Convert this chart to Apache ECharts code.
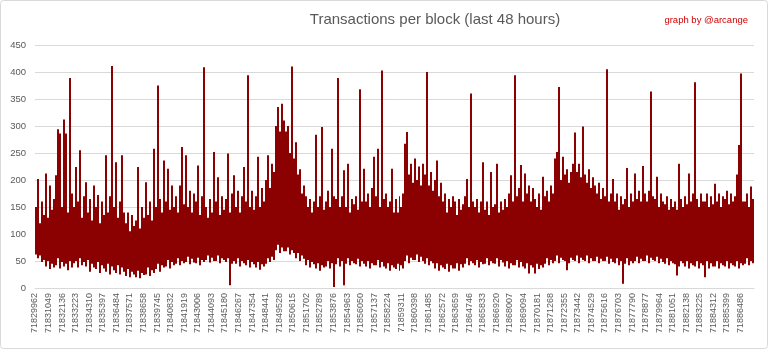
<!DOCTYPE html>
<html><head><meta charset="utf-8">
<script src="https://cdn.jsdelivr.net/npm/echarts@6/dist/echarts.min.js"></script>
<style>html,body{margin:0;padding:0;background:#fff}#c{width:768px;height:349px}</style>
</head><body><div id="c"></div><script>
// ---- data ----
const firstBlock = 71829962;
const totalBlocks = 57600;      // 48 hours of blocks
const labelStep = 1087;         // tick label spacing in blocks
const blocksPerColumn = 160;    // each reading pair summarises 160 blocks
const yTicks = [0, 50, 100, 150, 200, 250, 300, 350, 400, 450];

// maximum transactions per block in each 160-block slice
const highs = [
 150,202,120,160,135, 212,130,190,145,165, 209,294,286,150,312, 286,140,389,175,150,
 224,160,255,130,170, 196,140,165,125,190, 150,172,120,160,135, 246,140,170,411,150,
 233,130,160,246,140, 120,140,105,135,115, 125,224,110,150,130, 196,135,160,125,258,
 150,375,165,140,236, 160,221,145,190,150, 170,140,190,261,155, 246,150,180,140,175,
 160,227,135,170,409, 150,130,165,140,252, 160,205,135,170,145, 165,249,140,175,209,
 150,180,140,170,224, 160,394,150,180,145, 170,243,150,185,160, 200,246,185,230,215,
 300,335,290,341,310, 290,300,250,410,240, 270,210,220,175,190, 170,150,165,140,160,
 284,150,170,298,145, 160,180,150,258,170, 165,389,150,170,218, 150,230,140,165,155,
 170,145,368,160,221, 160,175,150,185,243, 170,258,150,403,165, 175,150,160,221,140,
 165,140,170,150,175, 267,289,210,230,195, 240,200,225,190,230, 210,400,190,215,180,
 200,236,170,195,160, 175,140,165,150,170, 160,135,165,145,155, 170,202,150,360,160,
 150,165,140,160,233, 145,160,135,215,150, 155,230,140,160,145, 165,150,175,209,160,
 394,170,185,228,160, 212,175,190,160,185, 165,150,175,145,206, 170,180,160,190,175,
 240,252,372,200,243, 210,220,195,215,230, 288,215,230,205,299, 210,195,220,185,205,
 190,175,195,165,185, 170,405,160,175,202, 160,175,145,170,155, 165,222,150,175,160,
 212,165,180,160,226, 175,160,180,364,170, 165,206,150,175,160, 155,170,145,165,150,
 160,145,230,165,150, 170,155,212,160,175, 381,165,150,175,160, 160,175,150,170,155,
 193,160,175,150,170, 165,180,155,175,160, 170,210,265,397,160, 160,175,150,188,165
];
// minimum transactions per block in each 160-block slice
const lows = [
 62,55,60,48,52, 40,50,35,45,38, 42,55,36,48,40, 45,33,50,38,46,
 50,38,55,42,48, 40,52,30,45,38, 35,48,28,42,36, 30,45,25,40,33,
 28,42,25,38,30, 22,35,20,30,25, 20,32,18,28,24, 25,38,22,33,28,
 35,45,30,42,38, 40,52,36,48,42, 45,55,42,50,46, 48,58,44,54,47,
 46,56,42,52,48, 52,60,47,56,50, 50,60,46,55,52, 48,55,5,45,50,
 45,55,40,50,46, 42,52,38,48,44, 38,48,34,44,40, 45,55,48,58,52,
 70,80,65,75,68, 68,75,62,70,65, 55,65,50,60,54, 42,52,38,48,44,
 36,46,32,42,38, 40,50,36,46,2, 44,55,40,50,5, 45,55,42,50,46,
 44,54,40,50,45, 40,50,36,46,42, 42,52,38,48,40, 36,46,32,42,38,
 35,45,32,42,36, 50,60,46,56,52, 52,62,48,58,50, 45,55,42,50,46,
 36,46,32,42,38, 35,45,30,42,36, 36,46,32,44,38, 45,55,42,50,46,
 42,52,38,48,44, 45,55,42,50,46, 45,55,40,52,47, 40,50,36,46,42,
 42,52,38,48,40, 36,46,27,42,38, 27,45,35,42,38, 45,55,42,52,46,
 50,60,46,56,52, 50,33,46,56,52, 50,60,46,56,52, 50,60,46,55,50,
 50,58,46,54,50, 50,58,45,54,48, 46,55,42,50,8, 45,55,42,50,46,
 50,58,46,54,50, 50,60,46,56,52, 50,58,46,54,48, 45,55,42,50,46,
 44,23,40,50,46, 40,50,36,46,42, 40,50,36,46,42, 20,50,36,46,40,
 40,50,36,46,42, 40,50,36,46,42, 40,50,36,46,42, 45,55,42,50,46
];

// ---- build ----
const categories = [];
for (let i = 0; i < totalBlocks; i++) categories.push(String(firstBlock + i));
const bandData = [];
for (let c = 0; c < highs.length; c++) {
  bandData.push([c * blocksPerColumn + blocksPerColumn / 2, lows[c], highs[c]]);
}

const chart = echarts.init(document.getElementById('c'), null, {renderer: 'canvas'});
const font = 'Liberation Sans, Arial, sans-serif';
chart.setOption({
  animation: false,
  backgroundColor: '#fff',
  title: [
    {text: 'Transactions per block (last 48 hours)', left: 430, top: 7, textAlign: 'center',
     textStyle: {fontFamily: font, fontSize: 15, fontWeight: 'normal', color: '#595959'}},
    {text: 'graph by @arcange', right: 15, top: 10,
     textStyle: {fontFamily: font, fontSize: 9.5, fontWeight: 'normal', color: '#d00000'}}
  ],
  graphic: [{type: 'rect', shape: {x: 0.5, y: 0.5, width: 767, height: 348, r: 3},
    style: {fill: 'none', stroke: '#d9d9d9', lineWidth: 1}, silent: true, z: 100}],
  grid: {left: 35, right: 14, top: 45, bottom: 61, containLabel: false},
  xAxis: {
    type: 'category', data: categories, boundaryGap: false,
    axisLine: {show: true, lineStyle: {color: '#d9d9d9', width: 1}},
    axisTick: {show: false},
    splitLine: {show: false},
    axisLabel: {interval: labelStep - 1, rotate: 90, margin: 5, fontFamily: font,
      fontSize: 9, color: '#595959', hideOverlap: false}
  },
  yAxis: {
    type: 'value', min: yTicks[0], max: yTicks[yTicks.length - 1], interval: yTicks[1] - yTicks[0],
    axisLine: {show: false}, axisTick: {show: false},
    splitLine: {lineStyle: {color: '#d9d9d9', width: 1}},
    axisLabel: {fontFamily: font, fontSize: 9.5, color: '#595959', margin: 9}
  },
  series: [{
    type: 'custom', data: bandData, silent: true, clip: false,
    encode: {x: 0, y: [1, 2]},
    renderItem: function (params, api) {
      const x = api.value(0);
      const pLow = api.coord([x, api.value(1)]);
      const pHigh = api.coord([x, api.value(2)]);
      const grid = params.coordSys;
      const w = grid.width * blocksPerColumn / totalBlocks;
      const x0 = Math.round(pLow[0] - w / 2);
      const x1 = Math.round(pLow[0] + w / 2);
      return {
        type: 'rect',
        shape: {x: x0, y: pHigh[1], width: Math.max(1, x1 - x0), height: pLow[1] - pHigh[1]},
        style: {fill: '#8b0000', stroke: null}
      };
    }
  }]
});
</script></body></html>
